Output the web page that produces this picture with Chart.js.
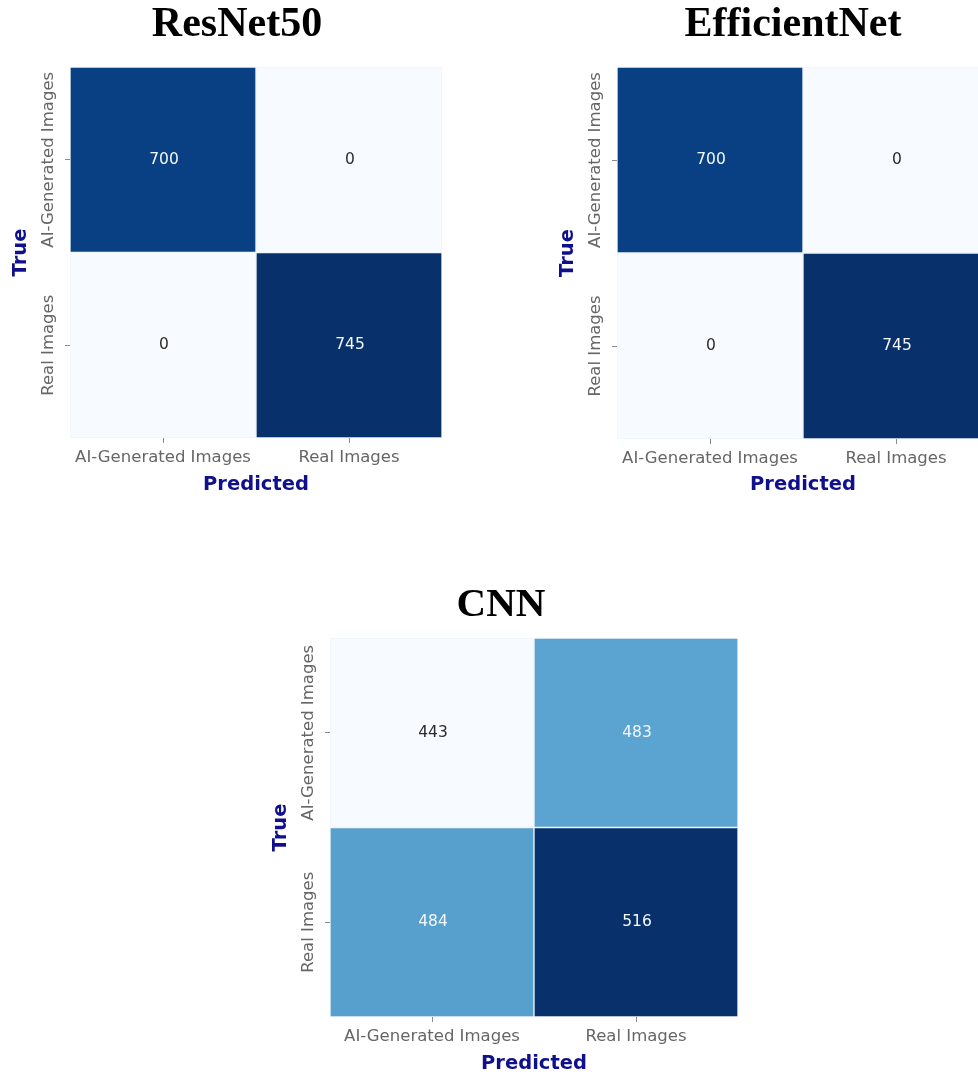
<!DOCTYPE html>
<html>
<head>
<meta charset="utf-8">
<script src="https://cdn.jsdelivr.net/npm/chart.js@4.4.1/dist/chart.umd.min.js"></script>
<style>
  html, body { margin: 0; padding: 0; background: #fff; overflow: hidden; }
  body { width: 978px; height: 1075px; position: relative; }
  canvas { position: absolute; }
</style>
</head>
<body>
<canvas id="resnet" width="474" height="499" style="left:0px;top:0px"></canvas>
<canvas id="efficient" width="492" height="499" style="left:547px;top:0px"></canvas>
<canvas id="cnn" width="482" height="497" style="left:260px;top:581px"></canvas>
<script>
// class names, used for both axes
const classes = ["AI-Generated Images", "Real Images"];

// confusion matrices, rows = true class, columns = predicted class
const resnet50 = [[700, 0], [0, 745]];
const efficientNet = [[700, 0], [0, 745]];
const cnn = [[443, 483], [484, 516]];

// matplotlib "Blues" colormap stops
const BLUES = ["#f7fbff", "#deebf7", "#c6dbef", "#9ecae1", "#6baed6", "#4292c6", "#2171b5", "#08519c", "#08306b"];

function hexToRgb(h) {
  return [parseInt(h.slice(1, 3), 16), parseInt(h.slice(3, 5), 16), parseInt(h.slice(5, 7), 16)];
}

function blues(t) {
  t = Math.max(0, Math.min(1, t));
  const pos = t * (BLUES.length - 1);
  const i = Math.min(Math.floor(pos), BLUES.length - 2);
  const f = pos - i;
  const a = hexToRgb(BLUES[i]), b = hexToRgb(BLUES[i + 1]);
  return a.map((c, k) => Math.round(c + (b[k] - c) * f));
}

function luminance(rgb) {
  const lin = rgb.map(c => {
    c = c / 255;
    return c <= 0.03928 ? c / 12.92 : Math.pow((c + 0.055) / 1.055, 2.4);
  });
  return 0.2126 * lin[0] + 0.7152 * lin[1] + 0.0722 * lin[2];
}

const cellLabels = {
  id: "cellLabels",
  afterDatasetsDraw(chart) {
    const ctx = chart.ctx;
    const matrix = chart.options.plugins.cellLabels.matrix;
    ctx.save();
    ctx.font = "15.5px 'DejaVu Sans'";
    ctx.textAlign = "center";
    ctx.textBaseline = "middle";
    chart.data.datasets.forEach((ds, r) => {
      chart.getDatasetMeta(r).data.forEach((bar, c) => {
        const rgb = ds.cellRgb[c];
        ctx.fillStyle = luminance(rgb) > 0.408 ? "#2b2b2b" : "#f4f7fb";
        ctx.fillText(String(matrix[r][c]), bar.x + 1, (bar.y + bar.base) / 2);
      });
    });
    ctx.restore();
  }
};

function confusionChart(id, title, matrix, g) {
  const flat = matrix.flat();
  const lo = Math.min(...flat), hi = Math.max(...flat);
  const datasets = matrix.map((row, r) => {
    const rgbs = row.map(v => blues((v - lo) / (hi - lo)));
    return {
      label: classes[r],
      data: row.map(() => [r, r + 1]),
      cellRgb: rgbs,
      backgroundColor: rgbs.map(c => "rgb(" + c.join(",") + ")"),
      borderColor: "rgba(225,235,248,0.55)",
      borderWidth: 1,
      borderSkipped: false,
      grouped: false,
      barPercentage: 1,
      categoryPercentage: 1
    };
  });

  const axisTitleFont = { family: "'DejaVu Sans'", size: 19.5, weight: "bold" };
  const tickFont = { family: "'DejaVu Sans'", size: 16.5 };

  new Chart(document.getElementById(id), {
    type: "bar",
    data: { labels: classes, datasets: datasets },
    plugins: [cellLabels],
    options: {
      responsive: false,
      animation: false,
      layout: { padding: 0 },
      plugins: {
        legend: { display: false },
        tooltip: { enabled: false },
        title: {
          display: true,
          text: title,
          color: "#000",
          font: { family: "'Liberation Serif', 'Times New Roman', serif", size: g.titleSize, weight: "bold" },
          padding: { top: 0, bottom: g.titleBottom }
        },
        cellLabels: { matrix: matrix }
      },
      scales: {
        x: {
          type: "category",
          offset: true,
          grid: { display: true, offset: false, drawOnChartArea: false, drawTicks: true, tickLength: 5, color: "#8a8a8a" },
          border: { display: false },
          ticks: { color: "#666", font: tickFont, padding: 5, maxRotation: 0, autoSkip: false },
          title: { display: true, text: "Predicted", color: "#10108c", font: axisTitleFont, padding: { top: 0, bottom: 2 } },
          afterFit(s) { s.height = g.xHeight; }
        },
        y: {
          type: "linear",
          min: 0,
          max: 2,
          reverse: true,
          afterBuildTicks(s) { s.ticks = [{ value: 0.5 }, { value: 1.5 }]; },
          grid: { display: true, drawOnChartArea: false, drawTicks: true, tickLength: 5, color: "#8a8a8a" },
          border: { display: false },
          ticks: {
            color: "#666",
            font: tickFont,
            minRotation: 90,
            maxRotation: 90,
            crossAlign: "center",
            padding: -72,
            callback: (v, i) => classes[i]
          },
          title: { display: true, text: "True", color: "#10108c", font: axisTitleFont, padding: { top: 9, bottom: 0 } },
          afterFit(s) { s.width = g.yWidth; }
        },
        spacer: {
          type: "linear",
          position: "right",
          display: true,
          grid: { display: false },
          border: { display: false },
          ticks: { display: false },
          afterFit(s) { s.width = g.spacer; }
        }
      }
    }
  });
}

confusionChart("resnet", "ResNet50", resnet50, { titleSize: 42, titleBottom: 16.6, yWidth: 70, xHeight: 61, spacer: 32 });
confusionChart("efficient", "EfficientNet", efficientNet, { titleSize: 42, titleBottom: 16.6, yWidth: 70, xHeight: 60, spacer: 50 });
confusionChart("cnn", "CNN", cnn, { titleSize: 41, titleBottom: 7.8, yWidth: 70, xHeight: 61, spacer: 4 });
</script>
</body>
</html>
